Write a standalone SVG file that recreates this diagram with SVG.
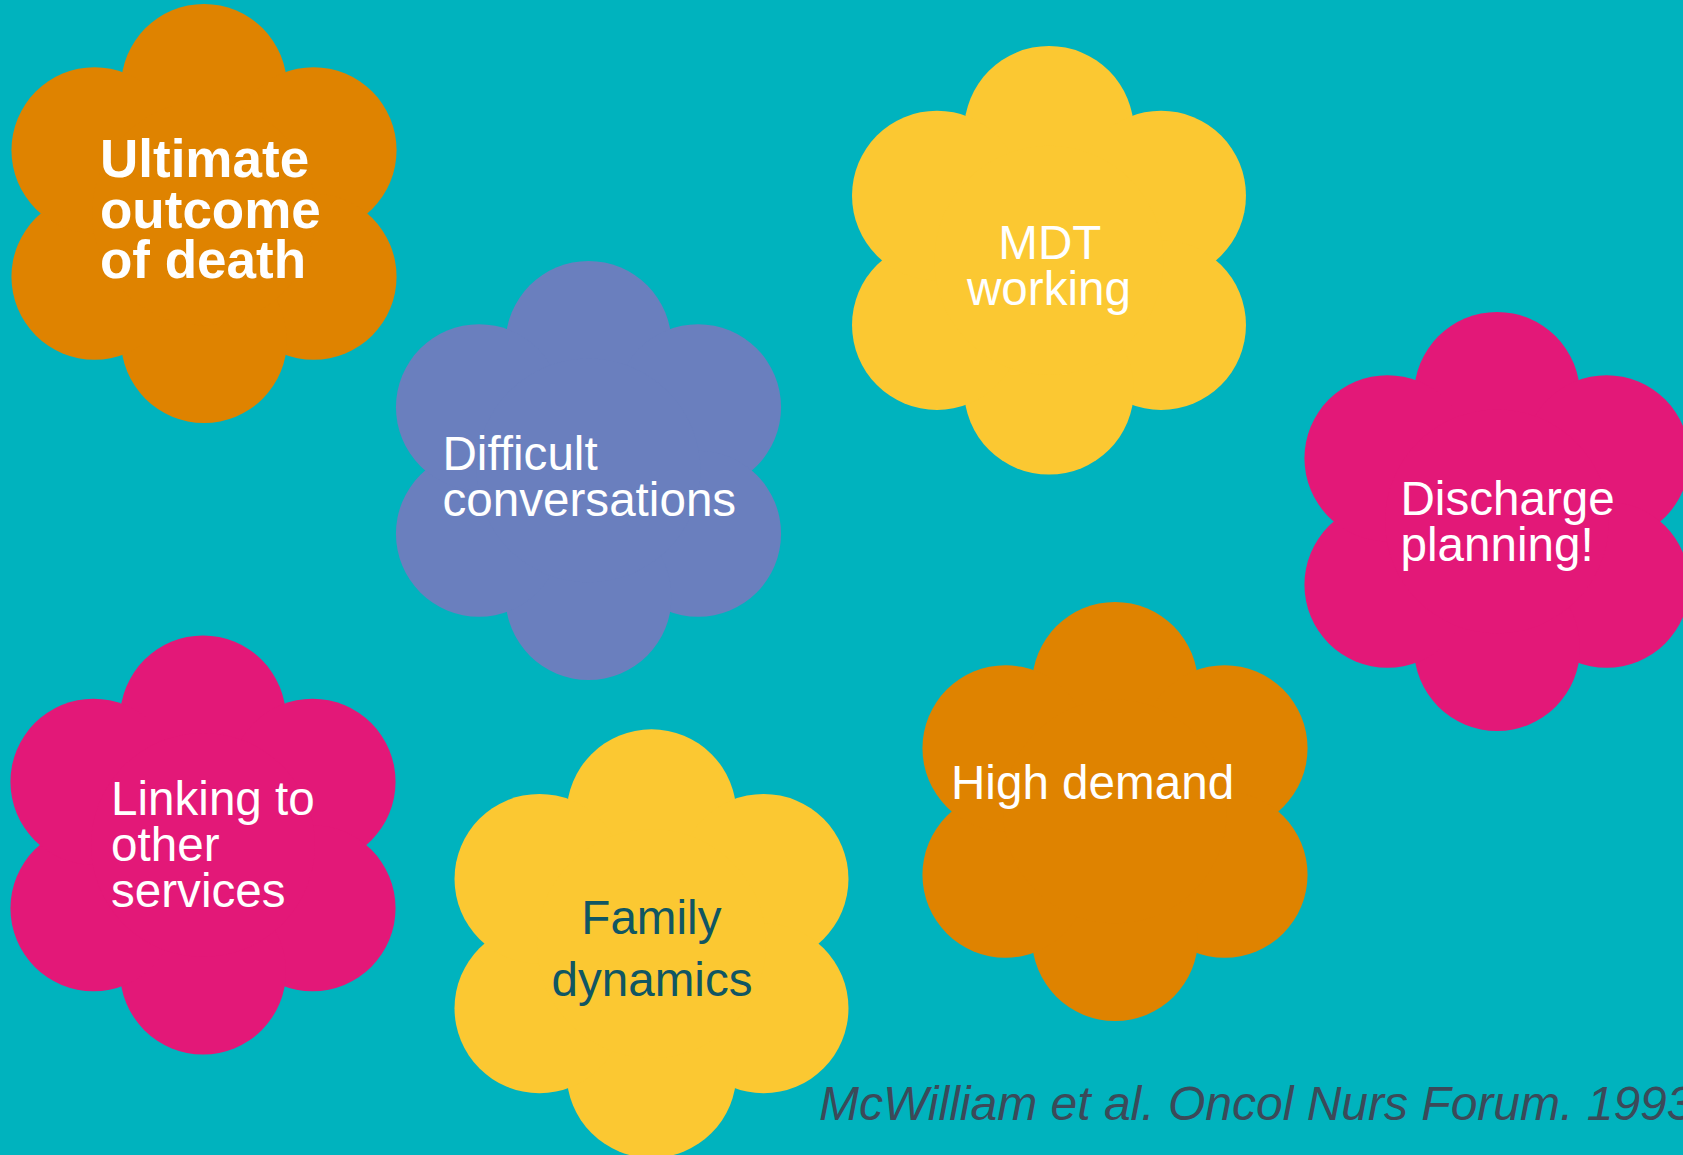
<svg xmlns="http://www.w3.org/2000/svg" xmlns:xlink="http://www.w3.org/1999/xlink" width="1683" height="1155" viewBox="0 0 1683 1155">
  <style>
    .orange { fill: #DF8300; }
    .purple { fill: #6A7FBE; }
    .yellow { fill: #FBC832; }
    .pink   { fill: #E31878; }
    .label  { font-family: "Liberation Sans", Arial, sans-serif; font-size: 47.6px; fill: #FFFFFF; }
    .bold   { font-weight: bold; font-size: 53px; }
    .dark   { fill: #105663; }
    .mid    { text-anchor: middle; }
    .cite   { font-family: "Liberation Sans", Arial, sans-serif; font-size: 48px; font-style: italic; fill: #3B4A59; }
  </style>
  <defs>
    <!-- six round petals on a hexagon plus a filled centre -->
    <g id="flower">
      <circle cx="0" cy="-126.5" r="83"/>
      <circle cx="109.55" cy="-63.25" r="83"/>
      <circle cx="109.55" cy="63.25" r="83"/>
      <circle cx="0" cy="126.5" r="83"/>
      <circle cx="-109.55" cy="63.25" r="83"/>
      <circle cx="-109.55" cy="-63.25" r="83"/>
      <circle cx="0" cy="0" r="112"/>
    </g>
  </defs>

  <rect x="0" y="0" width="1683" height="1155" fill="#00B3BE"/>

  <g id="ultimate-outcome">
    <use href="#flower" xlink:href="#flower" class="orange" transform="translate(204 213.5)"/>
    <text class="label bold">
      <tspan x="100" y="177">Ultimate</tspan>
      <tspan x="100" y="228">outcome</tspan>
      <tspan x="100" y="278">of death</tspan>
    </text>
  </g>

  <g id="difficult-conversations">
    <use href="#flower" xlink:href="#flower" class="purple" transform="translate(588.5 470.5)"/>
    <text class="label">
      <tspan x="442.5" y="470">Difficult</tspan>
      <tspan x="442.5" y="516">conversations</tspan>
    </text>
  </g>

  <g id="mdt-working">
    <use href="#flower" xlink:href="#flower" class="yellow" transform="translate(1049 260.3) scale(1.023)"/>
    <text class="label mid">
      <tspan x="1056" y="259">MDT</tspan>
      <tspan x="1049" y="305">working</tspan>
    </text>
  </g>

  <g id="discharge-planning">
    <use href="#flower" xlink:href="#flower" class="pink" transform="translate(1497 521.5)"/>
    <text class="label">
      <tspan x="1400.5" y="515">Discharge</tspan>
      <tspan x="1400.5" y="561">planning!</tspan>
    </text>
  </g>

  <g id="linking-services">
    <use href="#flower" xlink:href="#flower" class="pink" transform="translate(203 845)"/>
    <text class="label">
      <tspan x="111" y="815">Linking to</tspan>
      <tspan x="111" y="861">other</tspan>
      <tspan x="111" y="907">services</tspan>
    </text>
  </g>

  <g id="family-dynamics">
    <use href="#flower" xlink:href="#flower" class="yellow" transform="translate(651.5 943.6) scale(1.023)"/>
    <text class="label dark mid">
      <tspan x="658" y="934">Family</tspan>
      <tspan x="652" y="996">dynamics</tspan>
    </text>
  </g>

  <g id="high-demand">
    <use href="#flower" xlink:href="#flower" class="orange" transform="translate(1115 811.5)"/>
    <text class="label" x="951" y="799">High demand</text>
  </g>

  <text id="citation" class="cite" x="819" y="1120">McWilliam et al. Oncol Nurs Forum. 1993</text>
</svg>
